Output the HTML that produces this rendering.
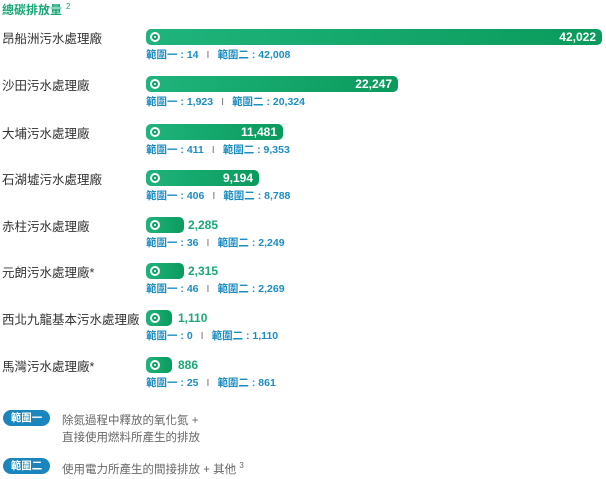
<!DOCTYPE html>
<html><head><meta charset="utf-8"><style>
body{margin:0;width:606px;height:479px;background:#fff;position:relative;font-family:"Liberation Sans","Noto Sans CJK TC",sans-serif;overflow:hidden}
.a{position:absolute;white-space:nowrap}
.t{color:#18a874;font-weight:bold;font-size:12px;left:2px;top:1px}
.t sup{font-weight:normal;font-size:8px;margin-left:4px;vertical-align:5px}
.n{left:2px;font-size:12.5px;color:#333}
.bar{left:146px;height:16px;border-radius:5px;background:linear-gradient(90deg,#1fb47c,#0a9a5c)}
.ic{position:absolute;left:4px;top:3px;width:10px;height:10px;border-radius:50%;background:#fff}
.ic:after{content:"";position:absolute;left:2px;top:2px;width:2px;height:2px;border:2px solid #0f9f64;border-radius:50%}
.v{font-size:12px;font-weight:bold;color:#fff;right:6px;top:1px}
.vo{font-size:12px;font-weight:bold;color:#1aa873}
.s{left:146px;font-size:10.5px;font-weight:bold;color:#1c8dc3}
.s b{font-weight:normal;color:#777;margin:0 8px}
.p{left:3px;width:47px;height:16px;border-radius:8px;background:#1a86bd;color:#fff;font-size:10.5px;font-weight:bold;text-align:center;line-height:16px}
.l{left:62px;font-size:11.5px;color:#666;line-height:17px}
</style></head><body>
<div class="a t">總碳排放量<sup>2</sup></div>

<div class="a n" style="top:28px">昂船洲污水處理廠</div>
<div class="a bar" style="top:29px;width:456px"><div class="ic"></div><div class="a v">42,022</div></div>
<div class="a s" style="top:47px">範圍一 : 14<b>I</b>範圍二 : 42,008</div>

<div class="a n" style="top:75px">沙田污水處理廠</div>
<div class="a bar" style="top:76px;width:252px"><div class="ic"></div><div class="a v">22,247</div></div>
<div class="a s" style="top:94px">範圍一 : 1,923<b>I</b>範圍二 : 20,324</div>

<div class="a n" style="top:123px">大埔污水處理廠</div>
<div class="a bar" style="top:124px;width:137px"><div class="ic"></div><div class="a v">11,481</div></div>
<div class="a s" style="top:142px">範圍一 : 411<b>I</b>範圍二 : 9,353</div>

<div class="a n" style="top:169px">石湖墟污水處理廠</div>
<div class="a bar" style="top:170px;width:113px"><div class="ic"></div><div class="a v">9,194</div></div>
<div class="a s" style="top:188px">範圍一 : 406<b>I</b>範圍二 : 8,788</div>

<div class="a n" style="top:216px">赤柱污水處理廠</div>
<div class="a bar" style="top:217px;width:38px"><div class="ic"></div></div>
<div class="a vo" style="left:188px;top:218px">2,285</div>
<div class="a s" style="top:235px">範圍一 : 36<b>I</b>範圍二 : 2,249</div>

<div class="a n" style="top:262px">元朗污水處理廠*</div>
<div class="a bar" style="top:263px;width:38px"><div class="ic"></div></div>
<div class="a vo" style="left:188px;top:264px">2,315</div>
<div class="a s" style="top:281px">範圍一 : 46<b>I</b>範圍二 : 2,269</div>

<div class="a n" style="top:309px">西北九龍基本污水處理廠</div>
<div class="a bar" style="top:310px;width:26px"><div class="ic"></div></div>
<div class="a vo" style="left:178px;top:311px">1,110</div>
<div class="a s" style="top:328px">範圍一 : 0<b>I</b>範圍二 : 1,110</div>

<div class="a n" style="top:356px">馬灣污水處理廠*</div>
<div class="a bar" style="top:357px;width:26px"><div class="ic"></div></div>
<div class="a vo" style="left:178px;top:358px">886</div>
<div class="a s" style="top:375px">範圍一 : 25<b>I</b>範圍二 : 861</div>

<div class="a p" style="top:410px">範圍一</div>
<div class="a l" style="top:413px">除氮過程中釋放的氧化氮 +<br>直接使用燃料所產生的排放</div>
<div class="a p" style="top:458px">範圍二</div>
<div class="a l" style="top:457px">使用電力所產生的間接排放 + 其他 <sup style="font-size:8px">3</sup></div>
</body></html>
